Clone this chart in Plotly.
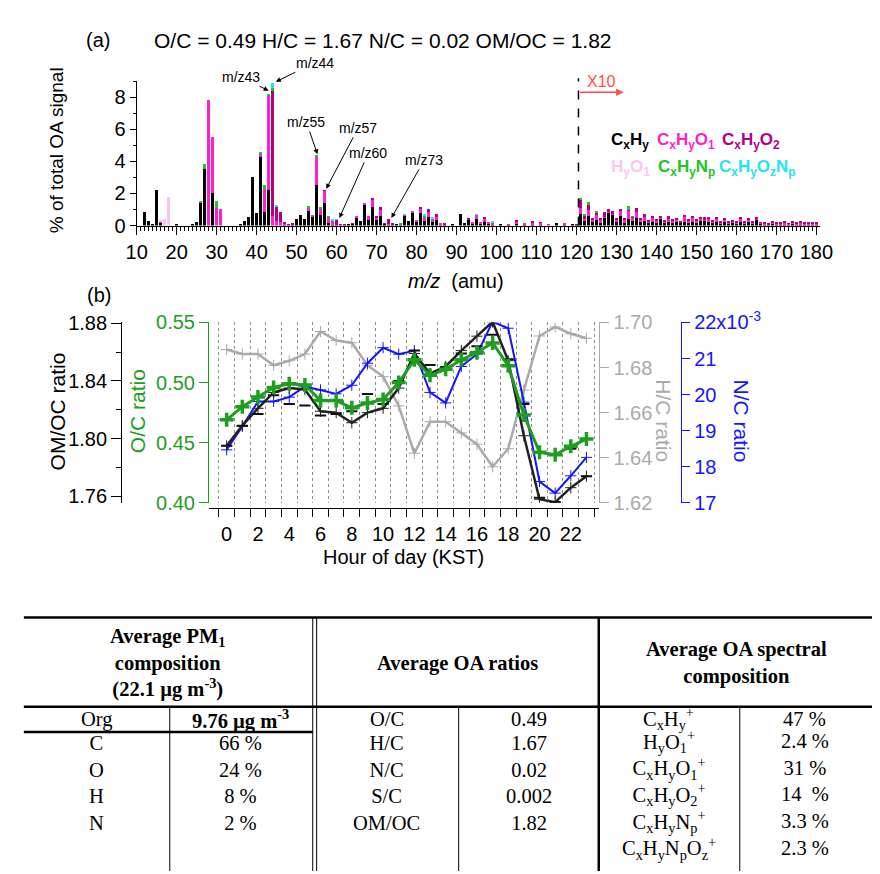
import plotly.graph_objects as go

W, H = 880, 874
FONT = "Liberation Sans, Arial, sans-serif"
SERIF = "Liberation Serif, Times New Roman, serif"


def fx(p):
    return p / W


def fy(p):
    return 1 - p / H


# ---------------- (a) average OA mass spectrum (% of total OA signal, m/z > 120 shown x10)
mz = list(range(12, 181))

cxhy = {12: 0.82, 13: 0.31, 14: 0.03, 15: 2.20, 16: 0.20, 20: 0.02, 24: 0.05, 25: 0.25, 26: 1.44,
        27: 3.55, 29: 2.05, 36: 0.05, 37: 0.27, 38: 0.50, 39: 3.05, 40: 0.78, 41: 4.25, 42: 0.85,
        43: 2.20, 47: 0.03, 49: 0.05, 50: 0.42, 51: 0.65, 52: 0.38, 53: 0.88, 54: 0.55, 55: 2.55,
        56: 0.65, 57: 1.42, 58: 0.15, 59: 0.05, 60: 0.05, 62: 0.05, 63: 0.12, 64: 0.08, 65: 0.50,
        66: 0.27, 67: 1.28, 68: 0.37, 69: 1.18, 70: 0.33, 71: 0.60, 72: 0.08, 73: 0.05, 74: 0.05,
        75: 0.05, 76: 0.03, 77: 0.60, 78: 0.30, 79: 0.82, 80: 0.25, 81: 0.80, 82: 0.30, 83: 0.55,
        84: 0.20, 85: 0.35, 86: 0.05, 87: 0.05, 89: 0.03, 91: 0.70, 92: 0.15, 93: 0.35, 94: 0.10,
        95: 0.40, 96: 0.12, 97: 0.20, 98: 0.10, 99: 0.05, 101: 0.02, 103: 0.03, 105: 0.08,
        107: 0.03, 109: 0.05, 111: 0.05, 115: 0.15, 117: 0.05, 119: 0.10,
        120: 0.03, 121: 0.70, 122: 0.27, 123: 0.58, 124: 0.20, 125: 0.37, 126: 0.17, 127: 0.47,
        128: 0.82, 129: 0.70, 130: 0.25, 131: 0.58, 132: 0.17, 133: 0.41, 134: 0.30, 135: 0.45,
        136: 0.20, 137: 0.30, 138: 0.15, 139: 0.25, 140: 0.15, 141: 0.43, 142: 0.15, 143: 0.25,
        144: 0.20, 145: 0.20, 146: 0.15, 147: 0.25, 148: 0.15, 149: 0.25, 150: 0.15, 151: 0.30,
        152: 0.30, 153: 0.25, 154: 0.15, 155: 0.20, 156: 0.10, 157: 0.20, 158: 0.10, 159: 0.15,
        160: 0.10, 161: 0.20, 162: 0.10, 163: 0.20, 164: 0.10, 165: 0.35, 166: 0.10, 167: 0.05,
        168: 0.05, 169: 0.10, 170: 0.05, 171: 0.05, 172: 0.05, 173: 0.04, 174: 0.10, 175: 0.05,
        176: 0.05, 177: 0.07, 178: 0.06, 179: 0.07, 180: 0.05}

cxhyo1 = {16: 0.03, 28: 7.85, 29: 3.45, 30: 1.10, 31: 1.05, 41: 0.25, 42: 1.40, 43: 5.90, 44: 0.60,
          45: 0.30, 46: 0.20, 47: 0.05, 53: 0.25, 54: 0.10, 55: 1.75, 56: 0.40, 57: 0.73, 58: 0.35,
          59: 0.25, 65: 0.10, 67: 0.07, 68: 0.25, 69: 0.42, 70: 0.17, 71: 0.38, 73: 0.05, 77: 0.05,
          79: 0.10, 80: 0.10, 81: 0.24, 82: 0.20, 83: 0.30, 84: 0.25, 85: 0.20, 86: 0.05, 93: 0.03,
          94: 0.08, 95: 0.25, 96: 0.10, 97: 0.25, 98: 0.05, 99: 0.12, 103: 0.03, 105: 0.15,
          107: 0.15, 109: 0.12, 111: 0.10, 113: 0.03, 117: 0.03,
          120: 0.01, 121: 0.40, 122: 0.16, 123: 0.36, 124: 0.17, 125: 0.30, 126: 0.20, 127: 0.05,
          128: 0.02, 129: 0.02, 130: 0.12, 131: 0.36, 132: 0.20, 133: 0.53, 134: 0.17, 135: 0.42,
          136: 0.15, 137: 0.23, 138: 0.10, 139: 0.22, 140: 0.15, 141: 0.08, 142: 0.10, 143: 0.17,
          144: 0.10, 145: 0.18, 146: 0.05, 147: 0.30, 148: 0.15, 149: 0.20, 150: 0.15, 151: 0.12,
          152: 0.05, 153: 0.15, 154: 0.10, 155: 0.20, 156: 0.10, 157: 0.15, 158: 0.10, 159: 0.10,
          160: 0.10, 161: 0.25, 162: 0.10, 163: 0.15, 164: 0.08, 165: 0.10, 166: 0.05, 167: 0.07,
          168: 0.02, 169: 0.10, 170: 0.05, 171: 0.05, 172: 0.15, 173: 0.04, 174: 0.10, 175: 0.05,
          176: 0.10, 177: 0.07, 178: 0.06, 179: 0.07, 180: 0.05}

cxhyo2 = {44: 7.80, 45: 0.85, 46: 0.65, 47: 0.10, 48: 0.05, 49: 0.03, 57: 0.03, 60: 0.30, 61: 0.08,
          62: 0.02, 64: 0.05, 69: 0.12, 70: 0.10, 71: 0.17, 72: 0.05, 73: 0.30, 74: 0.05, 81: 0.06,
          83: 0.15, 85: 0.15, 87: 0.05, 93: 0.07, 97: 0.07, 99: 0.03, 105: 0.07, 109: 0.06,
          111: 0.03,
          120: 0.02, 121: 0.50, 122: 0.20, 123: 0.38, 124: 0.06, 125: 0.14, 126: 0.10, 127: 0.35,
          128: 0.16, 129: 0.20, 130: 0.05, 131: 0.04, 132: 0.03, 133: 0.02, 134: 0.05, 135: 0.25,
          136: 0.05, 137: 0.18, 138: 0.10, 139: 0.14, 140: 0.03, 141: 0.10, 142: 0.05, 143: 0.16,
          144: 0.05, 145: 0.07, 146: 0.10, 147: 0.10, 148: 0.08, 149: 0.15, 150: 0.05, 151: 0.13,
          152: 0.20, 153: 0.12, 154: 0.05, 155: 0.12, 156: 0.10, 157: 0.10, 158: 0.05, 159: 0.10,
          160: 0.02, 161: 0.05, 162: 0.05, 163: 0.10, 164: 0.04, 165: 0.10, 166: 0.05, 167: 0.03,
          168: 0.05, 169: 0.10, 170: 0.05, 171: 0.05, 172: 0.05, 173: 0.04, 174: 0.08, 175: 0.05,
          176: 0.07, 177: 0.06, 178: 0.06, 179: 0.06, 180: 0.05}

cxhynp = {26: 0.03, 27: 0.30, 30: 0.45, 41: 0.10, 42: 0.30, 43: 0.12, 44: 0.20, 53: 0.05, 55: 0.05,
          56: 0.05, 58: 0.10, 76: 0.05, 82: 0.10, 121: 0.13, 122: 0.09, 123: 0.12, 125: 0.10,
          133: 0.28, 134: 0.05}

cxhyoznp = {44: 0.30, 45: 0.08, 59: 0.04, 60: 0.04, 77: 0.04, 82: 0.05, 84: 0.04, 95: 0.05, 99: 0.04}

hyo1 = {16: 0.05, 17: 0.40, 18: 1.75}

families = [
    ("CxHy", cxhy, "#000000"),
    ("CxHyO1", cxhyo1, "#ff1fcb"),
    ("CxHyO2", cxhyo2, "#b0008a"),
    ("CxHyNp", cxhynp, "#22c322"),
    ("CxHyOzNp", cxhyoznp, "#22e4f4"),
    ("HyO1", hyo1, "#ffc4ee"),
]

# ---------------- (b) diurnal elemental ratios
hours = list(range(24))
o_c = [0.469, 0.480, 0.488, 0.496, 0.499, 0.498, 0.485, 0.485, 0.479, 0.483, 0.486, 0.500,
       0.519, 0.506, 0.511, 0.519, 0.525, 0.533, 0.514, 0.473, 0.442, 0.440, 0.447, 0.453]
om_oc = [1.795, 1.809, 1.821, 1.832, 1.835, 1.834, 1.819, 1.818, 1.811, 1.818, 1.821, 1.835,
         1.859, 1.845, 1.850, 1.861, 1.871, 1.881, 1.854, 1.802, 1.758, 1.756, 1.766, 1.774]
om_oc_med = [1.795, 1.809, 1.817, 1.830, 1.824, 1.823, 1.816, 1.817, 1.819, 1.831, 1.824, 1.840,
             1.861, 1.851, 1.849, 1.859, 1.864, 1.872, 1.855, 1.824, 1.759, 1.756, 1.793, 1.774]
h_c = [1.688, 1.686, 1.686, 1.681, 1.683, 1.686, 1.696, 1.692, 1.691, 1.681, 1.676, 1.663,
       1.642, 1.656, 1.656, 1.651, 1.646, 1.636, 1.644, 1.670, 1.694, 1.698, 1.695, 1.693]
n_c_e3 = [18.47, 19.12, 19.81, 19.81, 19.93, 20.22, 20.13, 20.02, 20.26, 20.87, 21.30, 21.12,
          21.22, 20.06, 19.77, 20.78, 21.12, 22.02, 21.84, 19.79, 17.59, 17.27, 17.75, 18.26]

# ---------------- table
pm_header = ["Average PM<sub>1</sub>", "composition", "(22.1 µg m<sup>-3</sup>)"]
ratio_header = ["Average OA ratios"]
spec_header = ["Average OA spectral", "composition"]
pm_names = ["Org", "C", "O", "H", "N"]
pm_values = ["<b>9.76 µg m<sup>-3</sup></b>", "66 %", "24 %", "8 %", "2 %"]
ratio_names = ["O/C", "H/C", "N/C", "S/C", "OM/OC"]
ratio_values = ["0.49", "1.67", "0.02", "0.002", "1.82"]
spec_names = ["C<sub>x</sub>H<sub>y</sub><sup>+</sup>", "H<sub>y</sub>O<sub>1</sub><sup>+</sup>",
              "C<sub>x</sub>H<sub>y</sub>O<sub>1</sub><sup>+</sup>",
              "C<sub>x</sub>H<sub>y</sub>O<sub>2</sub><sup>+</sup>",
              "C<sub>x</sub>H<sub>y</sub>N<sub>p</sub><sup>+</sup>",
              "C<sub>x</sub>H<sub>y</sub>N<sub>p</sub>O<sub>z</sub><sup>+</sup>"]
spec_values = ["47 %", "2.4 %", "31 %", "14  %", "3.3 %", "2.3 %"]

GREEN = "#1e9e1e"
GRAY = "#aaaaaa"
BLUE = "#1414ff"

fig = go.Figure()

for name, vals, col in families:
    fig.add_trace(go.Bar(x=mz, y=[vals.get(m, 0) for m in mz], name=name, marker_color=col,
                         marker_line_width=0, xaxis="x", yaxis="y", showlegend=False))

fig.add_trace(go.Scatter(x=hours, y=h_c, mode="lines+markers", line=dict(color=GRAY, width=2.5),
                         marker=dict(symbol="cross-thin", size=8, line=dict(width=1, color=GRAY)),
                         xaxis="x2", yaxis="y2", showlegend=False))
fig.add_trace(go.Scatter(x=hours, y=n_c_e3, mode="lines+markers", line=dict(color=BLUE, width=2),
                         marker=dict(symbol="cross-thin", size=8, line=dict(width=1, color=BLUE)),
                         xaxis="x2", yaxis="y3", showlegend=False))
fig.add_trace(go.Scatter(x=hours, y=om_oc, mode="lines+markers", line=dict(color="#222222", width=2.5),
                         marker=dict(symbol="cross-thin", size=8, line=dict(width=1, color="#222222")),
                         xaxis="x2", yaxis="y4", showlegend=False))
fig.add_trace(go.Scatter(x=hours, y=om_oc_med, mode="markers",
                         marker=dict(symbol="line-ew", size=8, line=dict(width=2, color="#111111")),
                         xaxis="x2", yaxis="y4", showlegend=False))
fig.add_trace(go.Scatter(x=hours, y=o_c, mode="lines+markers", line=dict(color=GREEN, width=3),
                         marker=dict(symbol="cross-thin", size=10, line=dict(width=3.5, color=GREEN)),
                         xaxis="x2", yaxis="y5", showlegend=False))

tick_font = dict(family=FONT, size=20, color="black")
base_axis = dict(showline=True, linewidth=1, linecolor="black", showgrid=False, zeroline=False,
                 ticks="outside", tickcolor="black", tickfont=tick_font)

fig.update_layout(
    width=W, height=H, margin=dict(l=0, r=0, t=0, b=0),
    paper_bgcolor="white", plot_bgcolor="rgba(0,0,0,0)",
    barmode="stack", bargap=0.15, font=dict(family=FONT, color="black"),
    xaxis=dict(base_axis, domain=[fx(121), fx(823)], range=[10, 180.8], anchor="y",
               tickmode="array", tickvals=list(range(10, 181, 10)), ticklen=8,
               minor=dict(dtick=1, tick0=10, ticks="outside", ticklen=4, tickcolor="black")),
    yaxis=dict(base_axis, domain=[fy(209.5), fy(61)], range=[0, 9], anchor="x",
               tickvals=[0, 2, 4, 6, 8], ticklen=6,
               minor=dict(dtick=1, tick0=0, ticks="outside", ticklen=3, tickcolor="black")),
    xaxis2=dict(base_axis, domain=[fx(195), fx(596.7)], range=[-1.15, 23.83], anchor="free",
                position=fy(500.7), tickvals=list(range(0, 23, 2)), ticklen=8,
                tickcolor="rgba(0,0,0,0)",
                minor=dict(tickmode="array", tickvals=[h + 0.5 for h in range(-1, 24)],
                           ticks="outside", ticklen=8, tickcolor="black", showgrid=True,
                           griddash="dot", gridcolor="#888888", gridwidth=1)),
    yaxis2=dict(base_axis, domain=[fy(495), fy(309.3)], range=[1.62, 1.70], anchor="x2",
                side="right", tickvals=[1.62, 1.64, 1.66, 1.68, 1.70], tickformat=".2f",
                linecolor=GRAY, tickcolor=GRAY, ticklen=9, tickfont=dict(tick_font, color=GRAY)),
    yaxis3=dict(base_axis, range=[17, 22], overlaying="y2", anchor="free", position=fx(680.7),
                side="right", tickvals=[17, 18, 19, 20, 21, 22],
                ticktext=["17", "18", "19", "20", "21", "22x10<sup>-3</sup>"],
                linecolor=BLUE, tickcolor=BLUE, ticklen=8, tickfont=dict(tick_font, color=BLUE)),
    yaxis4=dict(base_axis, range=[1.7555, 1.8805], overlaying="y2", anchor="free", position=fx(105),
                side="left", tickvals=[1.76, 1.80, 1.84, 1.88], tickformat=".2f", ticklen=10,
                minor=dict(tickmode="array", tickvals=[1.78, 1.82, 1.86], ticks="outside",
                           ticklen=5, tickcolor="black")),
    yaxis5=dict(base_axis, range=[0.40, 0.55], overlaying="y2", anchor="free", position=fx(194.3),
                side="left", tickvals=[0.40, 0.45, 0.50, 0.55], tickformat=".2f",
                linecolor=GREEN, tickcolor=GREEN, ticklen=9, tickfont=dict(tick_font, color=GREEN)),
)

ann = []


def txt(x, y, s, size=20, color="black", angle=0, xanchor="center", family=FONT):
    ann.append(dict(x=fx(x), y=fy(y), xref="paper", yref="paper", text=s, showarrow=False,
                    xanchor=xanchor, yanchor="middle", textangle=angle,
                    font=dict(family=family, size=size, color=color)))


# panel (a) text
txt(81, 19, "(a)", 20)
txt(374, 19, "O/C = 0.49 H/C = 1.67 N/C = 0.02 OM/OC = 1.82", 21)
txt(38, 132, "% of total OA signal", 19, angle=-90)
txt(449, 267, "<i>m/z</i>  (amu)", 20)

legend_items = [
    ("C<sub>x</sub>H<sub>y</sub>", 607, 123, "#000000"),
    ("C<sub>x</sub>H<sub>y</sub>O<sub>1</sub>", 654, 123, "#ff1fcb"),
    ("C<sub>x</sub>H<sub>y</sub>O<sub>2</sub>", 721, 123, "#b0008a"),
    ("H<sub>y</sub>O<sub>1</sub>", 607, 150, "#ffc4ee"),
    ("C<sub>x</sub>H<sub>y</sub>N<sub>p</sub>", 655, 150, "#22c322"),
    ("C<sub>x</sub>H<sub>y</sub>O<sub>z</sub>N<sub>p</sub>", 718, 150, "#22e4f4"),
]
for s, x, y, c in legend_items:
    txt(x, y, "<b>" + s + "</b>", 17, c, xanchor="left")

# m/z callouts (arrow head at data point, text offset in pixels)
callouts = [("m/z43", 43, 8.41, -28, -14), ("m/z44", 44.8, 8.97, 39, -19),
            ("m/z55", 55.2, 4.45, -11, -32), ("m/z57", 57.4, 2.29, 32, -61),
            ("m/z60", 60.7, 0.47, 29, -65), ("m/z73", 73.7, 0.47, 33, -58)]
for s, x, y, ax, ay in callouts:
    ann.append(dict(x=x, y=y, xref="x", yref="y", text=s, showarrow=True, ax=ax, ay=ay,
                    arrowhead=2, arrowsize=1, arrowwidth=1, arrowcolor="black",
                    font=dict(family=FONT, size=14, color="black")))

RED = "#ff4b4b"
ann.append(dict(x=131.8, y=8.32, xref="x", yref="y", ax=120.5, ay=8.32, axref="x", ayref="y",
                text="", showarrow=True, arrowhead=2, arrowsize=1, arrowwidth=1.5, arrowcolor=RED))
ann.append(dict(x=126.3, y=8.96, xref="x", yref="y", text="X10", showarrow=False,
                font=dict(family=FONT, size=16, color=RED)))

# panel (b) text
txt(82, 281, "(b)", 20)
txt(40, 401, "OM/OC ratio", 21, angle=-90)
txt(122, 401, "O/C ratio", 21, GREEN, angle=-90)
txt(663, 411, "H/C ratio", 21, GRAY, angle=90)
txt(743, 411, "N/C ratio", 21, BLUE, angle=90)
txt(395, 551, "Hour of day (KST)", 20)

# table text: stacked lines are written as one block each
TS = 20.5


def block(x, y, lines, bold=False):
    s = "<br>".join(lines)
    if bold:
        s = "<b>" + s + "</b>"
    txt(x, y, s, TS, family=SERIF)


block(153.5, 660, pm_header, bold=True)
block(451, 660, ratio_header, bold=True)
block(738, 660, spec_header, bold=True)

col_x = [80, 228, 378, 524, 668, 808]
block(col_x[0], 718, pm_names[:1])
block(col_x[1], 718, pm_values[:1])
block(col_x[0], 783, pm_names[1:])
block(col_x[1], 783, pm_values[1:])
block(col_x[2], 718, ratio_names[:1])
block(col_x[3], 718, ratio_values[:1])
block(col_x[2], 783, ratio_names[1:])
block(col_x[3], 783, ratio_values[1:])
block(col_x[4], 717, spec_names[:1])
block(col_x[5], 718, spec_values[:1])
block(col_x[4], 795.5, spec_names[1:])
block(col_x[5], 795.5, spec_values[1:])

fig.update_layout(annotations=ann)

shapes = [
    # x10 marker in spectrum
    dict(type="line", xref="x", yref="paper", x0=120.5, x1=120.5, y0=fy(209.5), y1=fy(58),
         line=dict(color="black", width=1.5, dash="dash")),
]


def hline(y, x0, x1, w):
    shapes.append(dict(type="line", xref="paper", yref="paper", x0=fx(x0), x1=fx(x1),
                       y0=fy(y), y1=fy(y), line=dict(color="black", width=w)))


def vline(x, y0, y1, w):
    shapes.append(dict(type="line", xref="paper", yref="paper", x0=fx(x), x1=fx(x),
                       y0=fy(y0), y1=fy(y1), line=dict(color="black", width=w)))


hline(613, 5, 880, 2.5)
hline(705, 5, 880, 2.5)
hline(731, 5, 302, 2.5)
vline(302, 613, 874, 1)
vline(306, 613, 874, 1)
vline(596, 613, 874, 2.5)
vline(155, 705, 874, 1)
vline(452, 705, 874, 1)
vline(741, 705, 874, 1)

fig.update_layout(shapes=shapes)

fig.write_html("out.html")
